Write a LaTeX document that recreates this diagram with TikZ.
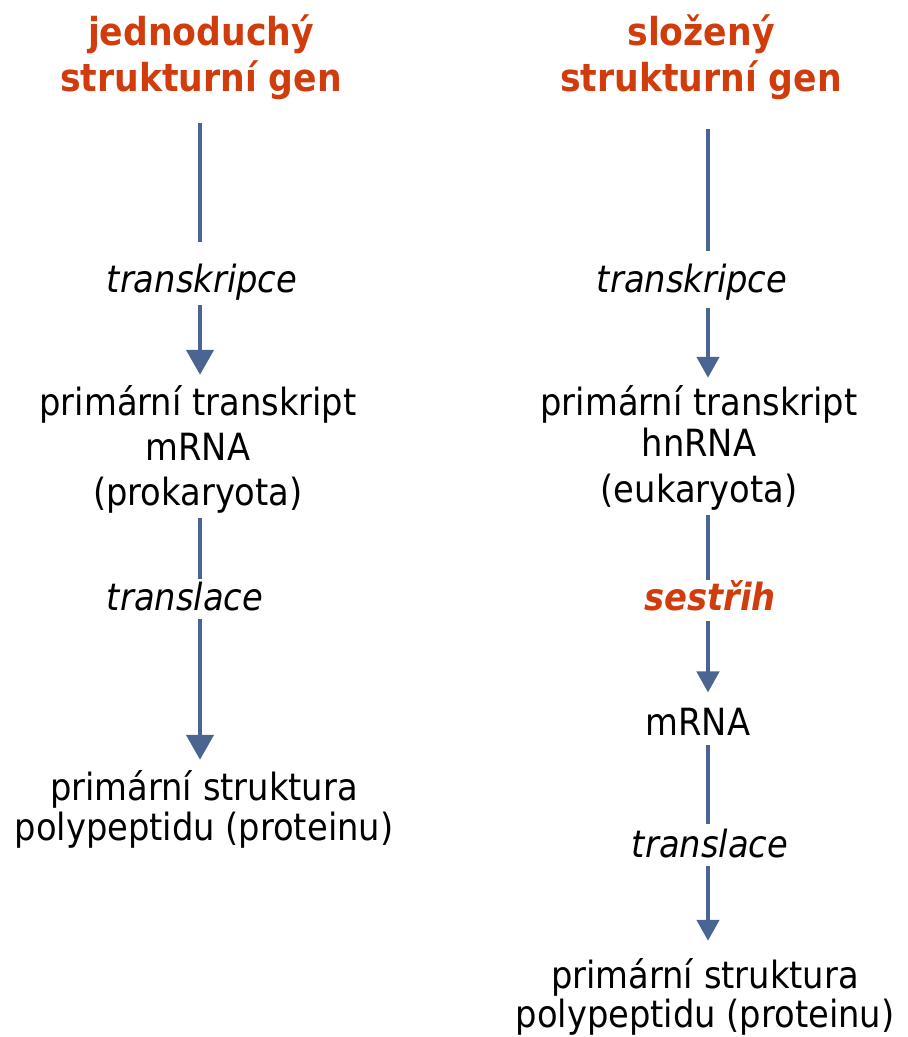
\documentclass[tikz,border=0pt]{standalone}
\usepackage{fontspec}
\IfFontExistsTF{DejaVu Sans Condensed}{\setmainfont{DejaVu Sans Condensed}}{\setmainfont{DejaVu Sans}[FakeStretch=0.9]}
\usetikzlibrary{arrows.meta}
\definecolor{genred}{RGB}{209,60,12}
\definecolor{lineblue}{RGB}{74,101,145}

\begin{document}
\begin{tikzpicture}[x=1pt,y=-1pt,
	title/.style={font=\bfseries\fontsize{38.5}{46}\selectfont, text=genred, align=center, inner sep=0pt, anchor=base},
	txt/.style={font=\fontsize{37.5}{45}\selectfont, align=center, inner sep=0pt, anchor=base},
	proc/.style={font=\itshape\fontsize{37.5}{45}\selectfont, inner sep=0pt, anchor=base},
	link/.style={draw=lineblue, line width=4.5pt},
	bigtip/.style={link, -{Triangle[width=27pt,length=25pt]}},
	smalltip/.style={link, -{Triangle[width=22pt,length=21pt]}}]
	\useasboundingbox (0,0) rectangle (908,1037);
	\coordinate (colL) at (200,0);
	\coordinate (colR) at (708,0);
	
	\node[title] (tL) at (201,91) {jednoduchý\\strukturní gen};
	\node[proc] (trL) at (202,292) {transkripce};
	\node[txt] (pL) at (198,505) {primární transkript\\mRNA\\(prokaryota)};
	\node[proc] (tlL) at (185,610) {translace};
	\node[txt, font=\fontsize{37.5}{40}\selectfont] (sL) at (204,840) {primární struktura\\polypeptidu (proteinu)};
	
	\node[title] (tR) at (701,91) {složený\\strukturní gen};
	\node[proc] (trR) at (692,292) {transkripce};
	\node[txt] (pR) at (699,502) {primární transkript\\[-4pt]hnRNA\\[1pt](eukaryota)};
	\node[proc, font=\bfseries\itshape\fontsize{37.5}{45}\selectfont, text=genred] (seR) at (710,610) {sestřih};
	\node[txt] (mR) at (698,735) {mRNA};
	\node[proc] (tlR) at (710,857) {translace};
	\node[txt, font=\fontsize{37.5}{39}\selectfont] (sR) at (705,1027) {primární struktura\\polypeptidu (proteinu)};
	
	\draw[link, shorten <=23pt, shorten >=21pt] (tL.south -| colL) -- (trL.north -| colL);
	\draw[bigtip, shorten <=5pt, shorten >=10pt] (trL.south -| colL) -- (pL.north -| colL);
	\draw[link, shorten <=5pt, shorten >=2pt] (pL.south -| colL) -- (tlL.north -| colL);
	\draw[bigtip, shorten <=8pt, shorten >=10pt] (tlL.south -| colL) -- (sL.north -| colL);
	
	\draw[link, shorten <=29pt, shorten >=12pt] (tR.south -| colR) -- (trR.north -| colR);
	\draw[smalltip, shorten <=8pt, shorten >=7pt] (trR.south -| colR) -- (pR.north -| colR);
	\draw[link, shorten <=5pt] (pR.south -| colR) -- (seR.north -| colR);
	\draw[smalltip, shorten <=10pt, shorten >=15pt] (seR.south -| colR) -- (mR.north -| colR);
	\draw[link, shorten <=10pt, shorten >=4pt] (mR.south -| colR) -- (tlR.north -| colR);
	\draw[smalltip, shorten <=8pt, shorten >=17pt] (tlR.south -| colR) -- (sR.north -| colR);
\end{tikzpicture}
\end{document}
